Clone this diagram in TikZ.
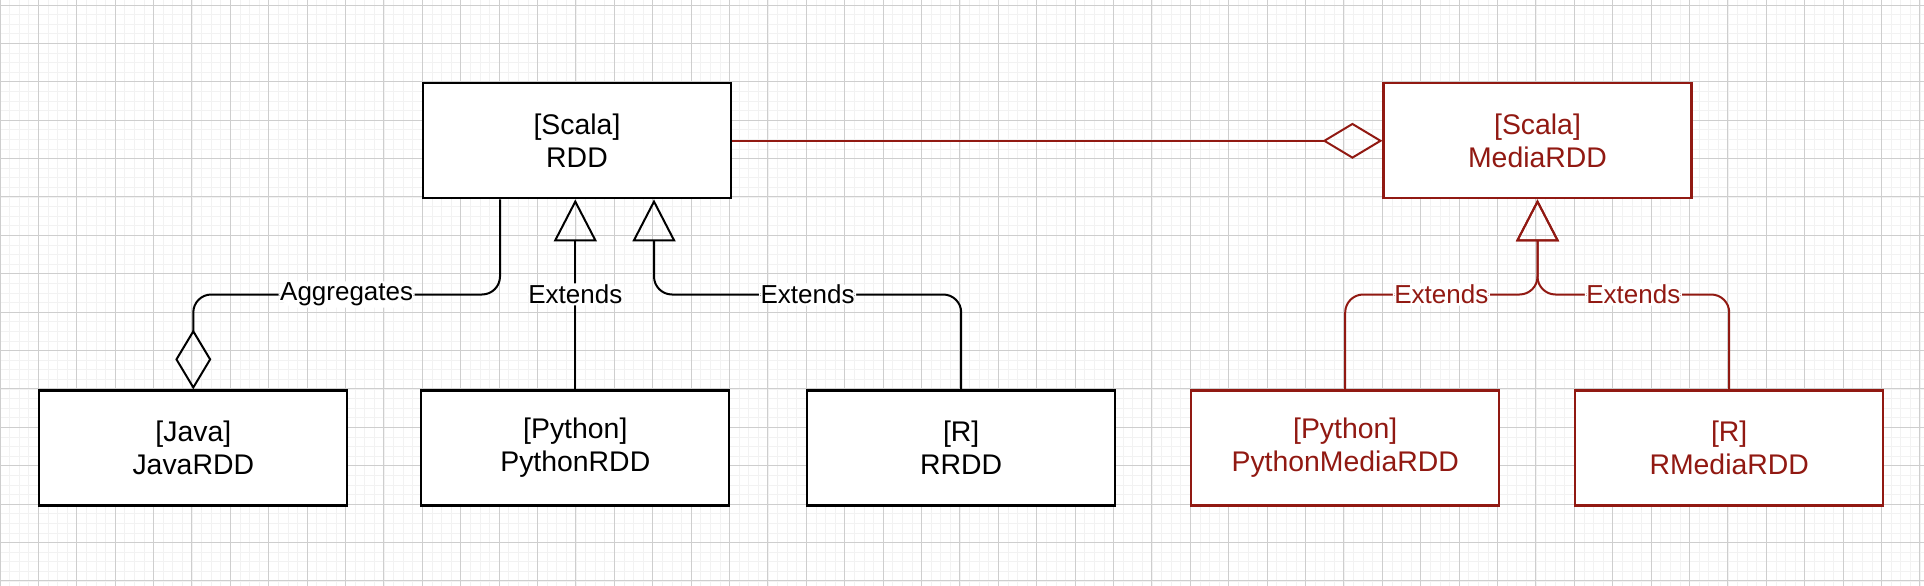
\documentclass[tikz,border=0pt]{standalone}
\usepackage{fontspec}
\setmainfont{Liberation Sans}
\usetikzlibrary{arrows.meta}
\definecolor{dred}{RGB}{145,25,18}
\definecolor{gmajor}{RGB}{206,206,206}
\definecolor{gminor}{RGB}{242,242,242}
\begin{document}
\begin{tikzpicture}[x=1pt,y=-1pt,
  cls/.style={draw=black, fill=white, line width=2.2pt, minimum width=308pt, minimum height=115pt, inner sep=0pt, align=center, font=\fontsize{28.4}{33}\selectfont},
  redcls/.style={cls, draw=dred, text=dred},
  conn/.style={line width=2pt, rounded corners=18pt},
  lbl/.style={fill=white, inner sep=1.5pt, font=\fontsize{26}{30}\selectfont},
  gen/.style={-{Triangle[open,length=42pt,width=43pt]}},
  aggr/.style={-{Diamond[open,length=60pt,width=36pt]}},
  gridminor/.style={gminor, line width=1pt},
  gridmajor/.style={gmajor, line width=1pt}
]
\useasboundingbox (0,0) rectangle (1924,586);
\fill[white] (0,0) rectangle (1924,586);
% grid
\foreach \i in {0,...,200} {\pgfmathsetmacro\gx{floor(\i*9.6)+0.5}\draw[gridminor] (\gx,0) -- (\gx,586);}
\foreach \j in {0,...,61} {\pgfmathsetmacro\gy{floor(-4.6+\j*9.6)+0.5}\draw[gridminor] (0,\gy) -- (1924,\gy);}
\foreach \i in {0,...,50} {\pgfmathsetmacro\gx{floor(\i*38.4)+0.5}\draw[gridmajor] (\gx,0) -- (\gx,586);}
\foreach \j in {0,...,15} {\pgfmathsetmacro\gy{floor(5+\j*38.4)+0.5}\draw[gridmajor] (0,\gy) -- (1924,\gy);}
% classes
\node[cls] (rdd) at (577,140.8) {[Scala]\\RDD};
\node[redcls] (media) at (1537.5,140.8) {[Scala]\\MediaRDD};
\node[cls] (java) at (193.3,448) {[Java]\\JavaRDD};
\node[cls] (python) at (575.3,448) {[Python]\\PythonRDD};
\node[cls] (r) at (961.2,448) {[R]\\RRDD};
\node[redcls] (pymedia) at (1345.2,448) {[Python]\\PythonMediaRDD};
\node[redcls] (rmedia) at (1729.2,448) {[R]\\RMediaRDD};
% helper coordinates
\coordinate (hy) at (0,294.5);
\coordinate (a0) at ([xshift=-77pt]rdd.south);
\coordinate (b0) at ([xshift=77pt]rdd.south);
% connectors
\draw[conn, aggr] (a0) -- (a0 |- hy) -- node[lbl]{Aggregates} (java.north |- hy) -- (java.north);
\draw[conn, gen] (python.north) -- node[lbl]{Extends} (python.north |- rdd.south);
\draw[conn, gen] (r.north) -- (r.north |- hy) -- node[lbl]{Extends} (b0 |- hy) -- (b0);
\draw[conn, dred, aggr] (rdd.east) -- (media.west);
\draw[conn, dred, gen] (pymedia.north) -- (pymedia.north |- hy) -- node[lbl]{Extends} (media.south |- hy) -- (media.south);
\draw[conn, dred, gen] (rmedia.north) -- (rmedia.north |- hy) -- node[lbl]{Extends} (media.south |- hy) -- (media.south);
\end{tikzpicture}
\end{document}
